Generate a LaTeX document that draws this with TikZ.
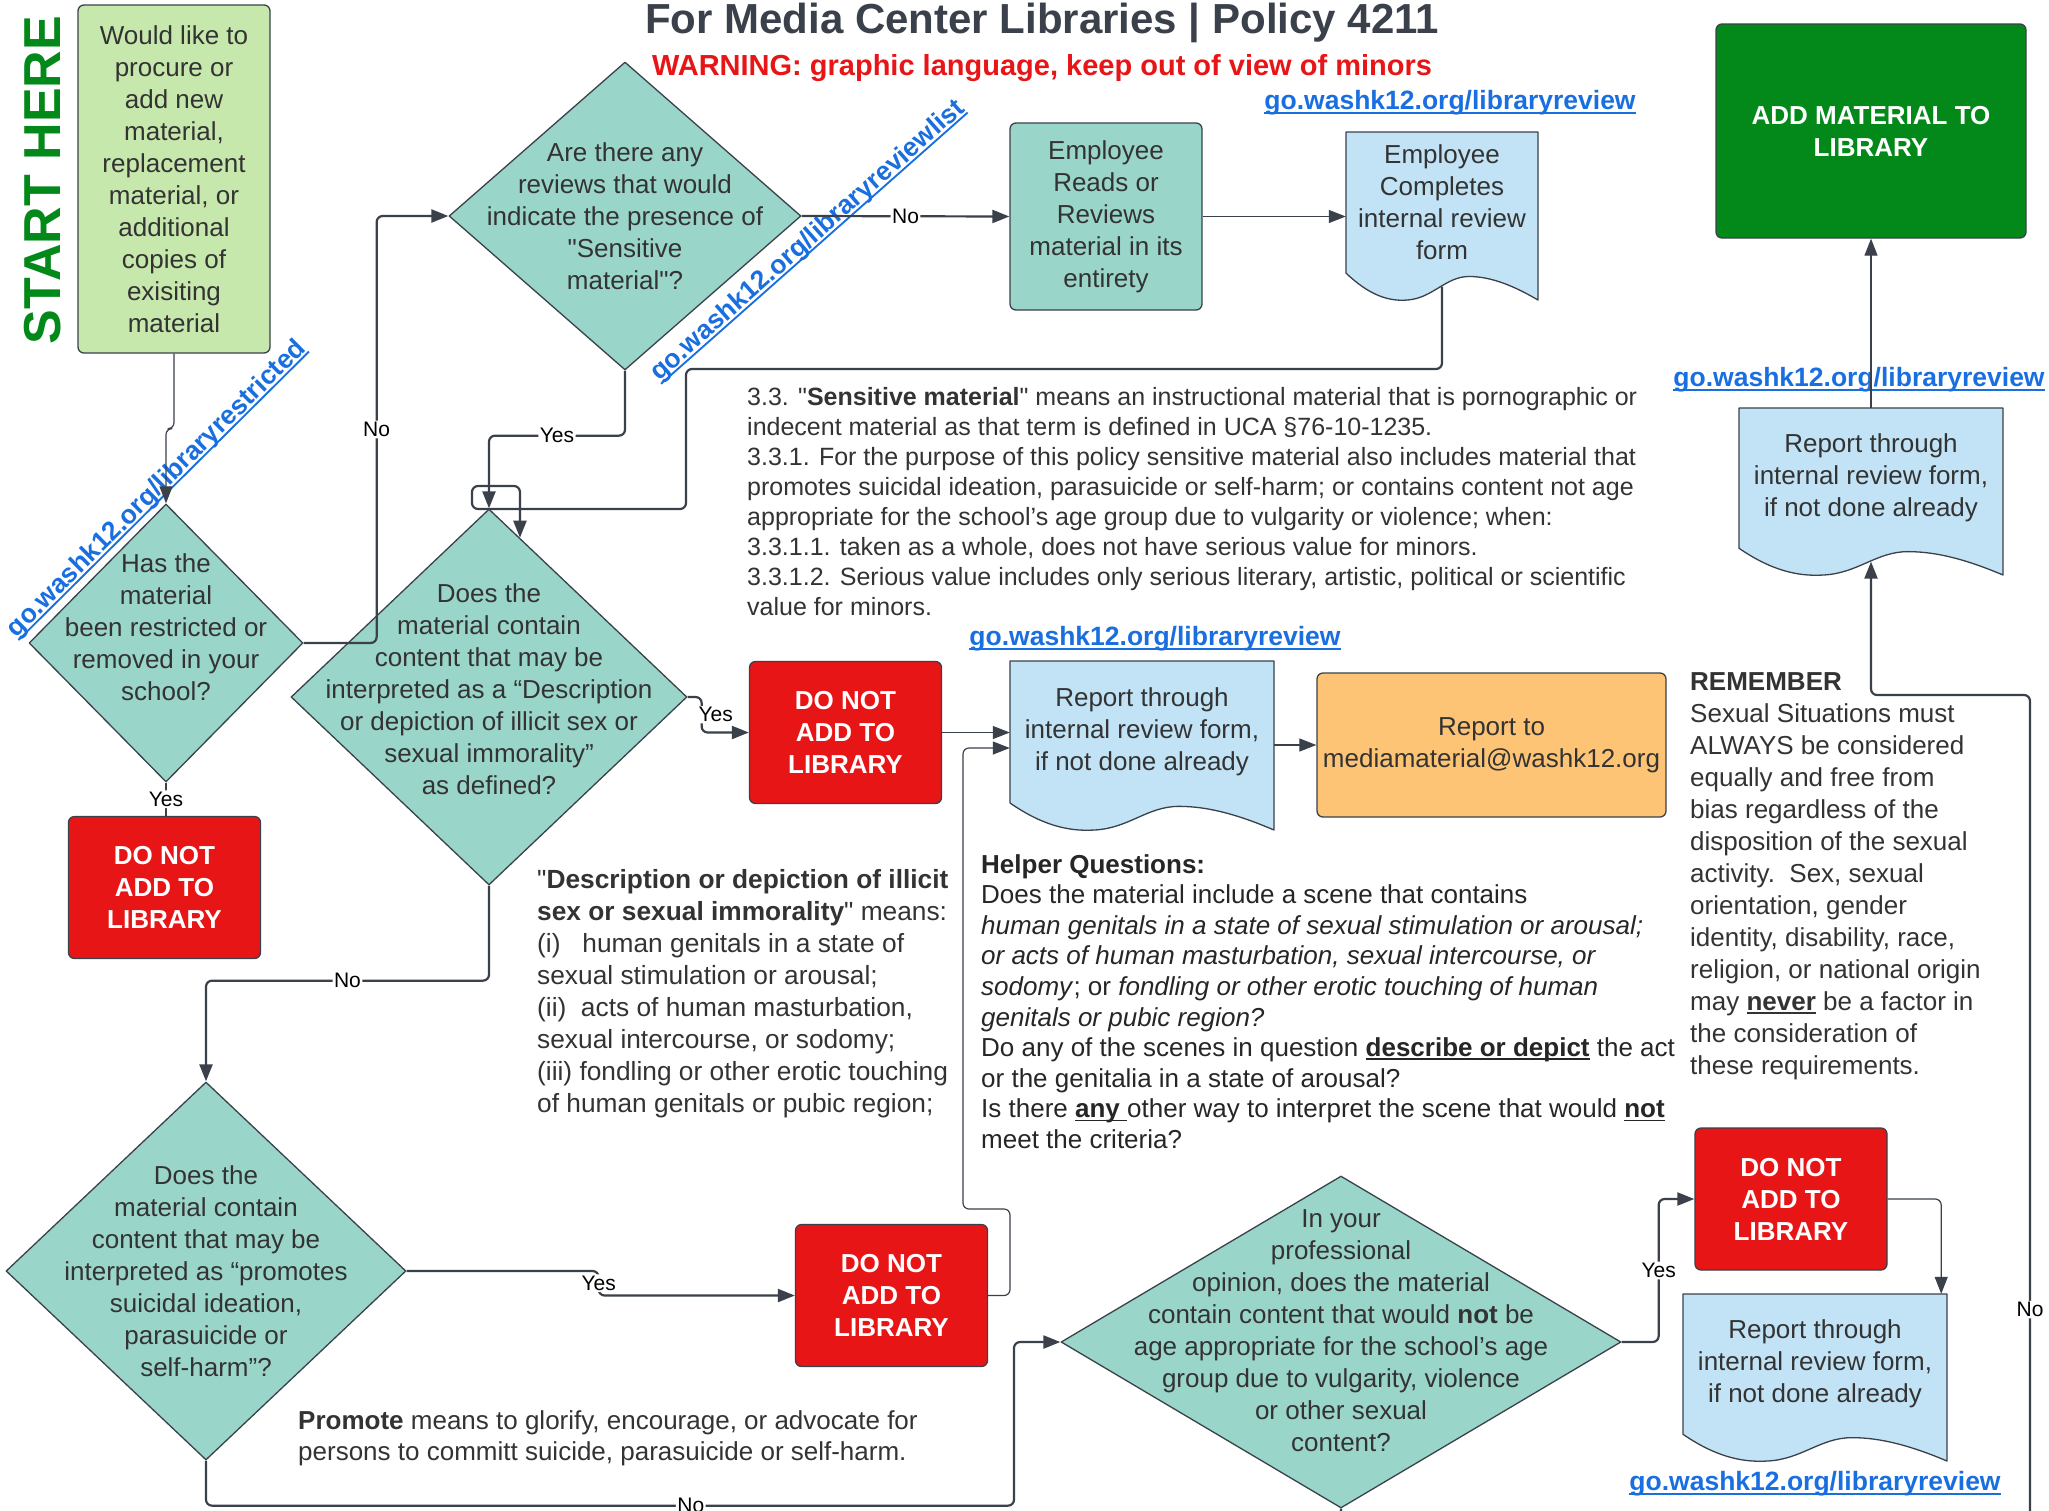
\documentclass[tikz,border=0pt]{standalone}
\usepackage{fontspec}
\setmainfont{Liberation Sans}[Ligatures=TeXOff]
\usetikzlibrary{shapes.geometric,arrows.meta,calc}

\definecolor{tealfill}{HTML}{9AD5CA}
\definecolor{docblue}{HTML}{C2E3F5}
\definecolor{stopred}{HTML}{E81517}
\definecolor{addgreen}{HTML}{03891A}
\definecolor{startgreen}{HTML}{C7E8AC}
\definecolor{mailorange}{HTML}{FDC476}
\definecolor{linkblue}{HTML}{1A6FE0}
\definecolor{textgray}{HTML}{333333}
\definecolor{linegray}{HTML}{3A414A}

\newsavebox\ulbox
\newcommand{\ulin}[1]{\sbox\ulbox{#1}\rlap{\rule[-0.14em]{\wd\ulbox}{0.07em}}\usebox\ulbox}
\newcommand{\fs}[2]{\fontsize{#1}{#2}\selectfont}
\newcommand{\lnk}[1]{\textcolor{linkblue}{\bfseries\ulin{#1}}}

\tikzset{
  dia/.style={diamond, draw=linegray, line width=1.3pt, fill=tealfill, inner sep=0pt},
  diatext/.style={align=center, text=textgray, font=\fs{26}{32}, inner sep=0pt},
  box/.style={rectangle, rounded corners=6pt, draw=linegray, line width=1.3pt, inner sep=0pt, align=center},
  stopbox/.style={box, fill=stopred, text=white, font=\bfseries\fs{26}{32}, minimum width=192pt, minimum height=142pt},
  docfill/.style={draw=linegray, line width=1.3pt, fill=docblue},
  doctext/.style={inner sep=0pt, align=center, text=textgray, font=\fs{26}{32}},
  note/.style={align=left, inner sep=0pt, text=textgray, anchor=north west},
  linknode/.style={inner sep=0pt, font=\fs{26.5}{30}},
  lbl/.style={fill=white, inner sep=1.5pt, font=\fs{21}{23}, text=black},
  conn/.style={draw=linegray, line width=2.2pt, rounded corners=6pt, -{Triangle[length=17pt,width=13pt]}},
  thinconn/.style={conn, line width=1.2pt}
}

% document shape with a wavy bottom: name, x, y, width, height, text
\newcommand{\docshape}[6]{%
  \filldraw[docfill] (#2,{#3+0.84*#5}) -- (#2,#3) -- ({#2+#4},#3) -- ({#2+#4},{#3+#5})
    .. controls ({#2+0.88*#4},{#3+0.92*#5}) and ({#2+0.76*#4},{#3+0.86*#5}) .. ({#2+0.64*#4},{#3+0.86*#5})
    .. controls ({#2+0.52*#4},{#3+0.86*#5}) and ({#2+0.45*#4},{#3+0.99*#5}) .. ({#2+0.32*#4},{#3+#5})
    .. controls ({#2+0.22*#4},{#3+1.01*#5}) and ({#2+0.12*#4},{#3+0.97*#5}) .. cycle;
  \node[doctext, minimum width=#4pt, minimum height={0.84*#5pt}] (#1) at ({#2+0.5*#4},{#3+0.42*#5}) {#6};
  \coordinate (#1-b) at ({#2+0.5*#4},{#3+0.92*#5});
}

\begin{document}
\begin{tikzpicture}[x=1pt, y=-1pt, line join=round]
  \useasboundingbox (0,0) rectangle (2049,1510);
  \fill[white] (0,0) rectangle (2049,1510);

  % Titles
  \node[font=\bfseries\fs{42}{48}, text=linegray] (title) at (1042,23) {For Media Center Libraries | Policy 4211};
  \node[font=\bfseries\fs{29}{34}, text=stopred] (warn) at (1042,68) {WARNING: graphic language, keep out of view of minors};
  \node[rotate=90, text=addgreen, font=\bfseries\fs{52}{60}] (starthere) at (43,180) {START HERE};

  % Boxes
  \node[box, fill=startgreen, text=textgray, font=\fs{26}{32}, minimum width=192pt, minimum height=348pt] (start) at (174,179)
    {Would like to\\procure or\\add new\\material,\\replacement\\material, or\\additional\\copies of\\exisiting\\material};
  \node[box, fill=tealfill, text=textgray, font=\fs{26}{32}, minimum width=192pt, minimum height=187pt] (reads) at (1106,216.5)
    {Employee\\Reads or\\Reviews\\material in its\\entirety};
  \node[box, fill=addgreen, text=white, font=\bfseries\fs{26}{32}, minimum width=310pt, minimum height=214pt] (addlib) at (1871,131)
    {ADD MATERIAL TO\\LIBRARY};
  \node[box, fill=mailorange, text=textgray, font=\fs{26}{32}, minimum width=349pt, minimum height=144pt] (mail) at (1491.5,745)
    {Report to\\mediamaterial@washk12.org};
  \node[stopbox] (dna1) at (164.5,887.5) {DO NOT\\ADD TO\\LIBRARY};
  \node[stopbox] (dna2) at (845.5,732.5) {DO NOT\\ADD TO\\LIBRARY};
  \node[stopbox] (dna3) at (891.5,1295.5) {DO NOT\\ADD TO\\LIBRARY};
  \node[stopbox] (dna4) at (1791,1199) {DO NOT\\ADD TO\\LIBRARY};

  % Documents
  \docshape{comp}{1346}{132}{192}{168}{Employee\\Completes\\internal review\\form}
  \docshape{rep1}{1010}{661}{264}{169}{Report through\\internal review form,\\if not done already}
  \docshape{rep2}{1739}{408}{264}{167}{Report through\\internal review form,\\if not done already}
  \docshape{rep3}{1683}{1294}{264}{167}{Report through\\internal review form,\\if not done already}

  % Decisions
  \node[dia, minimum width=352pt, minimum height=308pt,
    label={[diatext]center:{Are there any\\reviews that would\\indicate the presence of\\"Sensitive\\material"?}}] (d1) at (625,216) {};
  \node[dia, minimum width=396pt, minimum height=376pt,
    label={[diatext, yshift=8pt]center:{Does the\\material contain\\content that may be\\interpreted as a “Description\\or depiction of illicit sex or\\sexual immorality”\\as defined?}}] (d2) at (489,697) {};
  \node[dia, minimum width=274pt, minimum height=278pt,
    label={[diatext, yshift=16pt]center:{Has the\\material\\been restricted or\\removed in your\\school?}}] (d3) at (166,643) {};
  \node[dia, minimum width=400pt, minimum height=378pt,
    label={[diatext]center:{Does the\\material contain\\content that may be\\interpreted as “promotes\\suicidal ideation,\\parasuicide or\\self-harm”?}}] (d4) at (206,1271) {};
  \node[dia, minimum width=560pt, minimum height=332pt,
    label={[diatext, yshift=11pt]center:{In your\\professional\\opinion, does the material\\contain content that would \textbf{not} be\\age appropriate for the school’s age\\group due to vulgarity, violence\\or other sexual\\content?}}] (d5) at (1341,1342) {};

  % Links
  \node[linknode] (lnkcomp) at (1450,103) {\lnk{go.washk12.org/libraryreview}};
  \node[linknode] (lnkrep1) at (1155,639) {\lnk{go.washk12.org/libraryreview}};
  \node[linknode] (lnkrep2) at (1859,380) {\lnk{go.washk12.org/libraryreview}};
  \node[linknode] (lnkrep3) at (1815,1484) {\lnk{go.washk12.org/libraryreview}};
  \node[linknode, rotate=41.5] (lnklist) at (808,241) {\lnk{go.washk12.org/libraryreviewlist}};
  \node[linknode, rotate=44.8] (lnkrestr) at (157,489) {\lnk{go.washk12.org/libraryrestricted}};

  % Notes
  \node[note, font=\fs{25}{30}] (sens) at (747,387)
    {3.3. "\textbf{Sensitive material}" means an instructional material that is pornographic or\\indecent material as that term is defined in UCA §76-10-1235.\\3.3.1. For the purpose of this policy sensitive material also includes material that\\promotes suicidal ideation, parasuicide or self-harm; or contains content not age\\appropriate for the school’s age group due to vulgarity or violence; when:\\3.3.1.1. taken as a whole, does not have serious value for minors.\\3.3.1.2. Serious value includes only serious literary, artistic, political or scientific\\value for minors.};
  \node[note, font=\fs{26.3}{32}] (illicit) at (537,869)
    {"\textbf{Description or depiction of illicit}\\\textbf{sex or sexual immorality}" means:\\(i)\ \ \ human genitals in a state of\\sexual stimulation or arousal;\\(ii)\ \ acts of human masturbation,\\sexual intercourse, or sodomy;\\(iii) fondling or other erotic touching\\of human genitals or pubic region;};
  \node[note, font=\fs{26}{30.6}, text=black!85] (helper) at (981,854)
    {\textbf{Helper Questions:}\\Does the material include a scene that contains\\\textit{human genitals in a state of sexual stimulation or arousal;}\\\textit{or acts of human masturbation, sexual intercourse, or}\\\textit{sodomy}; or \textit{fondling or other erotic touching of human}\\\textit{genitals or pubic region?}\\Do any of the scenes in question \ulin{\textbf{describe or depict}}\ the act\\or the genitalia in a state of arousal?\\Is there \ulin{\textbf{any}\ }other way to interpret the scene that would \ulin{\textbf{not}}\\meet the criteria?};
  \node[note, font=\fs{26}{32}] (remember) at (1690,672)
    {\textbf{REMEMBER}\\Sexual Situations must\\ALWAYS be considered\\equally and free from\\bias regardless of the\\disposition of the sexual\\activity.\ \ Sex, sexual\\orientation, gender\\identity, disability, race,\\religion, or national origin\\may \ulin{\textbf{never}} be a factor in\\the consideration of\\these requirements.};
  \node[note, font=\fs{26}{31.4}] (promote) at (298,1410)
    {\textbf{Promote} means to glorify, encourage, or advocate for\\persons to committ suicide, parasuicide or self-harm.};

  % Connectors
  \coordinate (j1) at (963,748);
  \coordinate (turn) at (2030,695);
  \draw[thinconn] (start.south) -- ++(0,75) -| (d3.north);
  \draw[conn] (d1.east) -- node[lbl]{No} (reads.west);
  \draw[thinconn] (reads.east) -- (reads.east -| comp.west);
  \draw[conn] (comp-b) |- (686,369) |- (472,509) -- (472,486) -| (d2.79);
  \draw[conn] (d1.south) -- ++(0,65) -| node[lbl,pos=0.25]{Yes} (d2.north);
  \draw[conn] (d3.east) -- ++(73,0) |- node[lbl,pos=0.25]{No} (d1.west);
  \draw[conn,-] (d3.south) -- node[lbl]{Yes} (d3.south |- dna1.north);
  \draw[conn] (d2.east) -- ++(14,0) |- node[lbl,pos=0.25,xshift=14pt]{Yes} (dna2.west);
  \draw[thinconn] (dna2.east) -- (dna2.east -| rep1.west);
  \draw[thinconn] (rep1.east |- mail.west) -- (mail.west);
  \draw[conn] (d2.south) -- ++(0,95) -| node[lbl,pos=0.25]{No} (d4.north);
  \draw[conn] (d4.east) -- ++(192,0) |- node[lbl,pos=0.25]{Yes} (dna3.west);
  \draw[thinconn] (dna3.east) -| (1010,1209) -| (j1) -- (j1 -| rep1.west);
  \draw[conn] (d4.south) -- ++(0,45) -| node[lbl,pos=0.3]{No} (1014,1342) -- (d5.west);
  \draw[conn] (d5.east) -- ++(37,0) |- node[lbl,pos=0.25]{Yes} (dna4.west);
  \draw[thinconn] (dna4.east) -| ($(rep3.north east)+(-6,0)$);
  \draw[conn] (d5.south) -- ++(0,40) -| node[lbl,pos=0.64]{No} (turn) -| (rep2-b);
  \draw[thinconn] (rep2.north) -- (addlib.south);
\end{tikzpicture}
\end{document}
